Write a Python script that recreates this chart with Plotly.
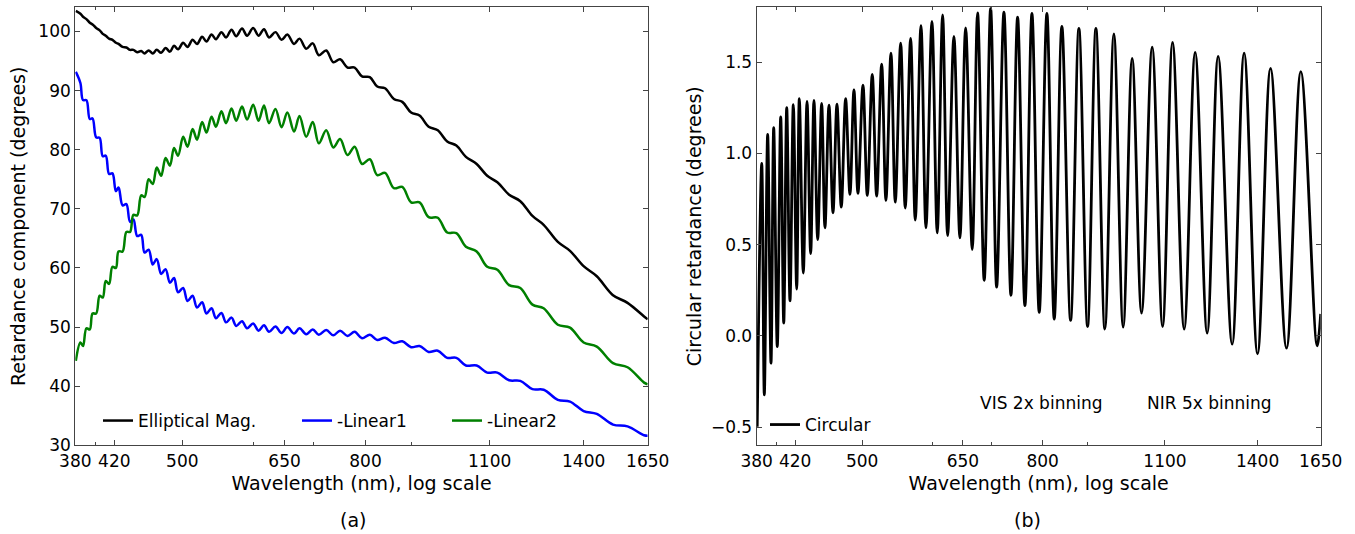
import math
import plotly.graph_objects as go

# ---------------- data ----------------
# wavelengths of the interference-fringe extrema (nm), shared by all curves
wavelength_nm = [
    380.5, 385.0, 387.6, 391.0, 394.4, 397.2, 400.9, 404.5, 407.7, 410.9,
    414.4, 418.0, 421.7, 424.6, 429.0, 433.2, 437.3, 441.1, 445.4, 450.0,
    453.9, 458.7, 463.5, 468.3, 473.6, 479.0, 484.4, 489.5, 494.6, 501.1,
    506.8, 513.4, 519.3, 526.1, 532.0, 539.0, 545.1, 552.8, 559.4, 567.3,
    574.2, 582.8, 590.4, 599.7, 608.0, 616.6, 624.7, 635.0, 645.0, 654.7,
    666.0, 675.4, 687.1, 698.7, 709.7, 723.3, 736.6, 749.5, 763.9, 778.0,
    792.9, 808.9, 824.5, 841.1, 860.4, 879.2, 899.3, 919.0, 940.7, 963.0,
    986.6, 1010.0, 1035.0, 1064.0, 1093.2, 1122.0, 1156.4, 1190.0, 1227.7, 1263.4,
    1310.3, 1351.8, 1399.8, 1448.0, 1509.5, 1566.8, 1634.7, 1650.0,
]

elliptical_mag = [
    103.5, 103.0, 102.5, 102.1, 101.5, 101.2, 100.6, 100.2, 99.6, 99.3,
    98.8, 98.6, 98.1, 97.9, 97.4, 97.3, 96.9, 96.9, 96.5, 96.7,
    96.3, 96.8, 96.3, 96.9, 96.4, 97.2, 96.6, 97.6, 97.0, 98.1,
    97.4, 98.6, 97.9, 99.1, 98.3, 99.5, 98.7, 99.9, 99.0, 100.3,
    99.2, 100.5, 99.3, 100.6, 99.3, 100.4, 99.0, 99.9, 98.6, 99.5,
    97.9, 98.8, 97.1, 98.0, 96.0, 96.8, 94.8, 95.3, 93.9, 93.9,
    92.4, 92.3, 90.7, 90.4, 88.6, 88.1, 86.3, 85.8, 83.9, 83.3,
    81.4, 80.7, 78.8, 77.6, 75.6, 74.5, 72.4, 71.3, 68.8, 67.3,
    64.4, 62.9, 60.3, 58.6, 55.4, 54.1, 51.8, 51.3,
]

linear1 = [
    93.2, 91.3, 88.4, 88.4, 85.2, 85.3, 82.1, 82.0, 78.9, 79.0,
    75.9, 76.0, 73.0, 73.6, 70.6, 70.8, 67.8, 68.2, 65.4, 65.6,
    62.6, 63.1, 60.6, 61.5, 59.0, 59.8, 57.5, 58.3, 55.9, 56.6,
    54.4, 55.3, 53.3, 54.2, 52.3, 53.2, 51.5, 52.4, 50.8, 51.6,
    50.2, 51.0, 49.8, 50.6, 49.4, 50.3, 49.2, 50.1, 49.0, 50.0,
    48.9, 49.8, 48.8, 49.6, 48.7, 49.5, 48.6, 49.4, 48.5, 49.2,
    48.1, 48.7, 47.8, 48.2, 47.3, 47.6, 46.6, 46.8, 45.8, 46.0,
    44.8, 44.8, 43.5, 43.5, 42.3, 42.3, 41.0, 40.9, 39.5, 39.4,
    37.7, 37.4, 35.8, 35.3, 33.5, 33.2, 31.7, 31.6,
]

linear2 = [
    44.3, 47.4, 46.8, 49.8, 49.6, 52.3, 52.3, 55.3, 55.0, 57.8,
    57.3, 60.2, 60.0, 62.8, 62.8, 66.1, 66.1, 69.0, 68.9, 72.3,
    72.0, 75.0, 74.2, 77.0, 75.6, 78.6, 77.3, 80.3, 79.0, 82.2,
    80.5, 83.5, 81.7, 84.7, 82.9, 85.6, 83.9, 86.5, 84.5, 87.0,
    84.9, 87.3, 85.1, 87.6, 84.9, 87.5, 84.5, 86.9, 83.8, 86.3,
    83.1, 85.7, 82.2, 84.7, 81.1, 83.3, 80.4, 81.8, 79.1, 80.5,
    77.6, 78.4, 75.7, 76.1, 73.5, 73.7, 71.1, 71.1, 68.6, 68.5,
    66.0, 65.9, 63.6, 62.8, 60.2, 59.7, 57.1, 56.6, 53.8, 53.2,
    50.4, 49.9, 47.4, 46.7, 43.9, 43.2, 40.6, 40.3,
]

circular = [
    -0.498, 0.944, -0.324, 1.104, -0.150, 1.141, -0.059, 1.200, 0.070, 1.250,
    0.192, 1.267, 0.256, 1.300, 0.344, 1.284, 0.450, 1.290, 0.527, 1.273,
    0.592, 1.264, 0.674, 1.269, 0.705, 1.300, 0.775, 1.348, 0.780, 1.374,
    0.769, 1.432, 0.765, 1.489, 0.742, 1.549, 0.732, 1.604, 0.700, 1.630,
    0.634, 1.699, 0.592, 1.723, 0.564, 1.758, 0.549, 1.641, 0.537, 1.687,
    0.473, 1.769, 0.304, 1.795, 0.267, 1.773, 0.222, 1.746, 0.165, 1.766,
    0.128, 1.766, 0.092, 1.696, 0.084, 1.685, 0.051, 1.685, 0.037, 1.654,
    0.048, 1.520, 0.125, 1.581, 0.051, 1.608, 0.037, 1.553, 0.015, 1.531,
    -0.046, 1.549, -0.099, 1.465, -0.068, 1.447, -0.055, 0.120,
]

x_tick_vals = [380, 420, 500, 650, 800, 1100, 1400, 1650]
x_minor_vals = [400, 600, 700, 900]
left_y_ticks = [30, 40, 50, 60, 70, 80, 90, 100]
right_y_ticks = [-0.5, 0.0, 0.5, 1.0, 1.5]
right_y_labels = ["\u22120.5", "0.0", "0.5", "1.0", "1.5"]

# ---------------- figure ----------------
W, H = 1355, 534
FONT = "DejaVu Sans"
AX = "#444444"
TICK_SIZE = 17
TITLE_SIZE = 19

fig = go.Figure()

fig.add_trace(go.Scatter(x=wavelength_nm, y=elliptical_mag, name="Elliptical Mag.", showlegend=True,
                         mode="lines", line=dict(color="black", width=2.5, shape="spline", smoothing=1.0),
                         xaxis="x", yaxis="y", legend="legend"))
fig.add_trace(go.Scatter(x=wavelength_nm, y=linear1, name="-Linear1", showlegend=True,
                         mode="lines", line=dict(color="#0000ff", width=2.5, shape="spline", smoothing=1.0),
                         xaxis="x", yaxis="y", legend="legend3"))
fig.add_trace(go.Scatter(x=wavelength_nm, y=linear2, name="-Linear2", showlegend=True,
                         mode="lines", line=dict(color="#008000", width=2.5, shape="spline", smoothing=1.0),
                         xaxis="x", yaxis="y", legend="legend4"))
fig.add_trace(go.Scatter(x=wavelength_nm, y=circular, name="Circular", showlegend=True,
                         mode="lines", line=dict(color="black", width=2.8, shape="spline", smoothing=1.0),
                         xaxis="x2", yaxis="y2", legend="legend2"))

x_range = [math.log10(380), math.log10(1650)]


def xaxis_style(domain, anchor, title):
    return dict(
        type="log", domain=domain, anchor=anchor, range=x_range, automargin=False,
        tickmode="array", tickvals=x_tick_vals, ticktext=[str(v) for v in x_tick_vals],
        ticks="inside", ticklen=5, tickwidth=1, tickcolor=AX,
        minor=dict(tickmode="array", tickvals=x_minor_vals, ticks="inside", ticklen=3,
                   tickwidth=1, tickcolor=AX, showgrid=False),
        showline=True, linecolor=AX, linewidth=1.2, mirror="allticks",
        showgrid=False, zeroline=False,
        tickfont=dict(family=FONT, size=TICK_SIZE, color="black"),
        title=dict(text=title, font=dict(family=FONT, size=TITLE_SIZE, color="black"), standoff=6),
    )


def yaxis_style(domain, anchor, rng, vals, labels, title, standoff):
    return dict(
        domain=domain, anchor=anchor, range=rng, automargin=False,
        tickmode="array", tickvals=vals, ticktext=labels,
        ticks="inside", ticklen=5, tickwidth=1, tickcolor=AX,
        showline=True, linecolor=AX, linewidth=1.2, mirror="allticks",
        showgrid=False, zeroline=False,
        tickfont=dict(family=FONT, size=TICK_SIZE, color="black"),
        title=dict(text=title, font=dict(family=FONT, size=TITLE_SIZE, color="black"), standoff=standoff),
    )


def legend_at(x_px, y_px):
    return dict(orientation="h", x=x_px / W, y=(H - y_px) / H, xanchor="left", yanchor="middle",
                bgcolor="rgba(0,0,0,0)", borderwidth=0, visible=True,
                font=dict(family=FONT, size=TICK_SIZE, color="black"))


def note(text, x_px, y_px, size, anchor="left"):
    return dict(text=text, x=x_px / W, y=(H - y_px) / H, xref="paper", yref="paper",
                xanchor=anchor, yanchor="middle", showarrow=False,
                font=dict(family=FONT, size=size, color="black"))


y_domain = [(H - 445.3) / H, (H - 7.3) / H]

fig.update_layout(
    width=W, height=H,
    showlegend=True,
    margin=dict(l=0, r=0, t=0, b=0, autoexpand=False),
    paper_bgcolor="white", plot_bgcolor="white",
    font=dict(family=FONT, size=TICK_SIZE, color="black"),
    xaxis=xaxis_style([75.3 / W, 647.7 / W], "y", "Wavelength (nm), log scale"),
    yaxis=yaxis_style(y_domain, "x", [30, 104.1], left_y_ticks, [str(v) for v in left_y_ticks],
                      "Retardance component (degrees)", 7),
    xaxis2=xaxis_style([756.7 / W, 1320.7 / W], "y2", "Wavelength (nm), log scale"),
    yaxis2=yaxis_style(y_domain, "x2", [-0.6, 1.8], right_y_ticks, right_y_labels,
                       "Circular retardance (degrees)", 4),
    legend=legend_at(98, 421),
    legend3=legend_at(297, 421),
    legend4=legend_at(447, 421),
    legend2=legend_at(765, 425),
    annotations=[
        note("VIS 2x binning", 978, 403, TICK_SIZE),
        note("NIR 5x binning", 1145, 403, TICK_SIZE),
        note("(a)", 353, 520, TITLE_SIZE, "center"),
        note("(b)", 1027, 520, TITLE_SIZE, "center"),
    ],
)

fig.write_html("out.html")
